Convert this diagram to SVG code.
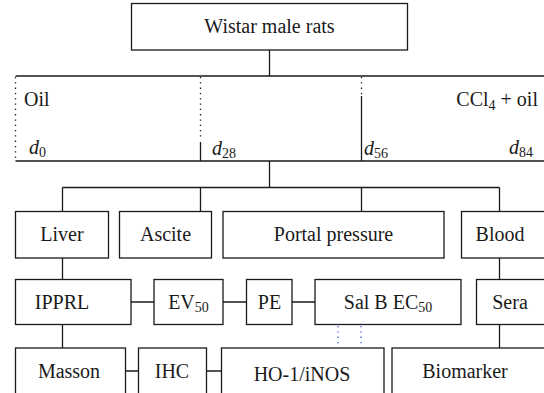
<svg xmlns="http://www.w3.org/2000/svg" width="544" height="393" viewBox="0 0 544 393">
<style>
.b{fill:#fff;stroke:#1a1a1a;stroke-width:1.3}
.l{fill:none;stroke:#1a1a1a;stroke-width:1.3}
.d{fill:none;stroke:#1a1a1a;stroke-width:1.3;stroke-dasharray:1.3 4}
.bd{fill:none;stroke:#3355cc;stroke-width:1.2;stroke-dasharray:1.3 4}
text{font-family:'Liberation Serif','DejaVu Serif',serif;font-size:20px;fill:#1a1a1a}
.c{text-anchor:middle}
.s{font-size:14px}
.i{font-style:italic}
</style>
<rect width="544" height="393" fill="#fff"/>
<g id="connectors">
<path class="l" d="M269.5 50V76M15.5 76H544M15.5 161H544M200.5 142V161M361.5 96V161M269.5 161V187.5M62.5 187.5H499.5M62.5 187.5V211.5M200.5 187.5V211.5M361.5 187.5V211.5M499.5 187.5V211.5M62.5 258V279.5M499.5 258V279.5M131 302H154M223 302H246.5M292 302H315M62.5 324.5V348M499.5 324.5V348M125.5 371H138.5M206.5 371H221.5"/>
<path class="d" d="M15.5 77V161M200.5 77V140M361.5 77V95"/>
<path class="bd" d="M338 326V347M361 326V347"/>
</g>
<g font-family="Liberation Serif, DejaVu Serif, serif">
<g id="wistar"><rect class="b" x="131.5" y="3.5" width="276" height="46.5"/><text class="c" x="269.5" y="33">Wistar male rats</text></g>
<g id="timeline">
<text x="24" y="106">Oil</text>
<text x="538" y="106" text-anchor="end">CCl<tspan class="s" dy="4">4</tspan><tspan dy="-4"> + oil</tspan></text>
<text x="29" y="154" class="i">d<tspan class="s" dy="3" font-style="normal">0</tspan></text>
<text x="212" y="155" class="i">d<tspan class="s" dy="3" font-style="normal">28</tspan></text>
<text x="364" y="155" class="i">d<tspan class="s" dy="3" font-style="normal">56</tspan></text>
<text x="509" y="154" class="i">d<tspan class="s" dy="3" font-style="normal">84</tspan></text>
</g>
<g id="liver"><rect class="b" x="15.5" y="211.5" width="93" height="46.5"/><text class="c" x="62" y="241">Liver</text></g>
<g id="ascite"><rect class="b" x="119.5" y="211.5" width="92" height="46.5"/><text class="c" x="165.5" y="241">Ascite</text></g>
<g id="portal"><rect class="b" x="223" y="211.5" width="221" height="46.5"/><text class="c" x="333.5" y="241">Portal pressure</text></g>
<g id="blood"><rect class="b" x="461.5" y="211.5" width="90" height="46.5"/><text class="c" x="500" y="241">Blood</text></g>
<g id="ipprl"><rect class="b" x="15.5" y="279.5" width="115.5" height="45"/><text class="c" x="62" y="309">IPPRL</text></g>
<g id="ev50"><rect class="b" x="154" y="279.5" width="69" height="45"/><text class="c" x="188.5" y="309">EV<tspan class="s" dy="3">50</tspan></text></g>
<g id="pe"><rect class="b" x="246.5" y="279.5" width="45.5" height="45"/><text class="c" x="269.5" y="309">PE</text></g>
<g id="salb"><rect class="b" x="315" y="279.5" width="146" height="45"/><text class="c" x="388" y="309">Sal B EC<tspan class="s" dy="3">50</tspan></text></g>
<g id="sera"><rect class="b" x="476.5" y="279.5" width="75" height="45"/><text class="c" x="510" y="309">Sera</text></g>
<g id="masson"><rect class="b" x="15.5" y="348" width="110" height="52"/><text class="c" x="69" y="378">Masson</text></g>
<g id="ihc"><rect class="b" x="138.5" y="348" width="68" height="52"/><text class="c" x="172" y="378">IHC</text></g>
<g id="ho1"><rect class="b" x="221.5" y="348" width="162.5" height="52"/><text class="c" x="302" y="381">HO-1/iNOS</text></g>
<g id="biomarker"><rect class="b" x="392" y="348" width="160" height="52"/><text class="c" x="465" y="378">Biomarker</text></g>
</g>
</svg>
